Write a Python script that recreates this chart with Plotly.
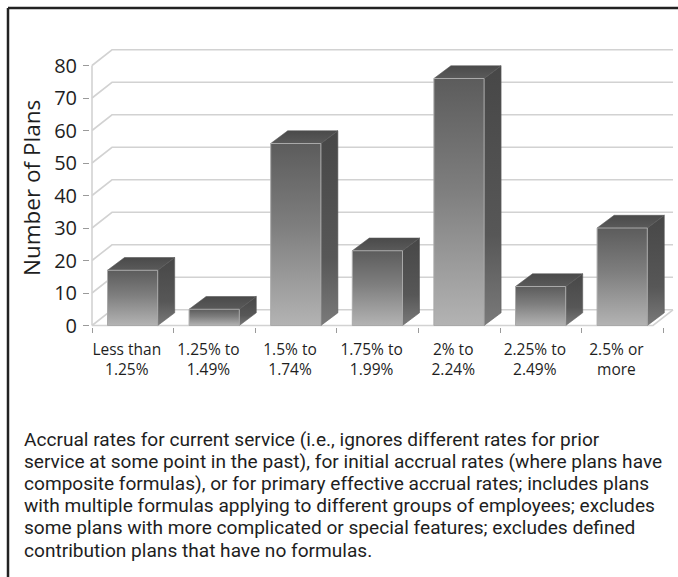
import plotly.graph_objects as go

# ---- data -------------------------------------------------------------
categories = ["Less than<br>1.25%", "1.25% to<br>1.49%", "1.5% to<br>1.74%",
              "1.75% to<br>1.99%", "2% to<br>2.24%", "2.25% to<br>2.49%",
              "2.5% or<br>more"]
plans = [17, 5, 56, 23, 76, 12, 30]
y_ticks = [0, 10, 20, 30, 40, 50, 60, 70, 80]
y_title = "Number of Plans"
note_lines = [
    "Accrual rates for current service (i.e., ignores different rates for prior",
    "service at some point in the past), for initial accrual rates (where plans have",
    "composite formulas), or for primary effective accrual rates; includes plans",
    "with multiple formulas applying to different groups of employees; excludes",
    "some plans with more complicated or special features; excludes defined",
    "contribution plans that have no formulas.",
]

# ---- page geometry (pixels) --------------------------------------------
W, H = 678, 577
ORIGIN_X, ORIGIN_Y = 92.0, 325.5      # front-left floor corner
UNIT_X, UNIT_Y = 81.6, 3.25           # px per category / per plan
AREA_L, AREA_R, AREA_T, AREA_B = 90, 678, 44, 327

x_range = [(AREA_L - ORIGIN_X) / UNIT_X, (AREA_R - ORIGIN_X) / UNIT_X]
y_range = [(ORIGIN_Y - AREA_B) / UNIT_Y, (ORIGIN_Y - AREA_T) / UNIT_Y]

# oblique depth of the back wall and of the columns, in data units
WALL_DX, WALL_DY = 20 / UNIT_X, 15.7 / UNIT_Y
BAR_DX, BAR_DY = 17 / UNIT_X, 12.7 / UNIT_Y
WALL_END = 6.875
BAR_LEFT, BAR_RIGHT = 0.19, 0.805

GRID = "#d2d2d2"
TEXT = "#1e1e1e"
TICKC = "#9a9a9a"
CHART_FONT = "Open Sans, Lato, sans-serif"
NOTE_FONT = "Roboto, Liberation Sans, sans-serif"

fig = go.Figure()


def poly(xs, ys, **kw):
    fig.add_trace(go.Scatter(x=xs, y=ys, mode="lines", hoverinfo="skip",
                             showlegend=False, **kw))


# back wall gridlines (with the diagonal run back from the front axis)
n = len(categories)
for v in y_ticks:
    poly([0, WALL_DX, WALL_END + WALL_DX], [v, v + WALL_DY, v + WALL_DY],
         line=dict(color=GRID, width=1.6))

# floor outline
poly([0, WALL_END, WALL_END + WALL_DX], [0, 0, WALL_DY],
     line=dict(color=GRID, width=1.6))

# front value axis line
poly([0, 0], [0, y_ticks[-1]], line=dict(color=GRID, width=1.6))

# columns: side, top, then front face
for i, v in enumerate(plans):
    x0, x1 = i + BAR_LEFT, i + BAR_RIGHT
    poly([x1, x1 + BAR_DX, x1 + BAR_DX, x1, x1],
         [0, BAR_DY, v + BAR_DY, v, 0],
         fill="toself", line=dict(width=0.6, color="#5a5a5a"),
         fillgradient=dict(type="vertical",
                           colorscale=[[0, "#7a7a7a"], [0.35, "#575757"], [1, "#474747"]]))
    poly([x0, x0 + BAR_DX, x1 + BAR_DX, x1, x0],
         [v, v + BAR_DY, v + BAR_DY, v, v],
         fill="toself", line=dict(width=0.6, color="#555555"),
         fillgradient=dict(type="vertical",
                           colorscale=[[0, "#5a5a5a"], [1, "#4a4a4a"]]))
    poly([x0, x1, x1, x0, x0], [0, 0, v, v, 0],
         fill="toself", line=dict(width=1, color="#a9a9a9"),
         fillgradient=dict(type="vertical",
                           colorscale=[[0, "#b3b3b3"], [0.55, "#7e7e7e"], [1, "#5c5c5c"]]))

fig.update_layout(
    width=W, height=H,
    margin=dict(l=0, r=0, t=0, b=0, autoexpand=False),
    paper_bgcolor="white", plot_bgcolor="white",
    showlegend=False,
    xaxis=dict(
        domain=[AREA_L / W, AREA_R / W], range=x_range, automargin=False,
        showgrid=False, zeroline=False, showline=False,
        tickmode="array", tickvals=[i + 0.5 for i in range(n)],
        ticktext=categories, ticks="", ticklabelstandoff=11,
        ticklabelshift=-6,
        tickfont=dict(family=CHART_FONT, size=15.5, color=TEXT),
        minor=dict(tickmode="linear", tick0=0, dtick=1, ticks="outside",
                   ticklen=5, tickwidth=1, tickcolor=TICKC, showgrid=False),
        fixedrange=True,
    ),
    yaxis=dict(
        domain=[(H - AREA_B) / H, (H - AREA_T) / H], range=y_range, automargin=False,
        showgrid=False, zeroline=False, showline=False,
        tickmode="array", tickvals=y_ticks, ticks="outside", ticklen=6,
        tickwidth=1, tickcolor=TICKC, ticklabelstandoff=2,
        tickfont=dict(family=CHART_FONT, size=20, color=TEXT),
        fixedrange=True,
    ),
)

# y axis title
fig.add_annotation(text=y_title, x=31 / W, y=1 - 188 / H, xref="paper", yref="paper",
                   showarrow=False, textangle=-90, xanchor="center", yanchor="middle",
                   font=dict(family=CHART_FONT, size=22.5, color=TEXT))

# note below the chart, one annotation per line
for k, line in enumerate(note_lines):
    fig.add_annotation(text=line, x=22 / W, y=1 - (439 + 22.2 * k) / H,
                       xref="paper", yref="paper", showarrow=False,
                       xanchor="left", yanchor="middle",
                       font=dict(family=NOTE_FONT, size=19.1, color=TEXT))

# frame: top rule and left rule
fig.add_shape(type="line", xref="paper", yref="paper",
              x0=8 / W, x1=1, y0=1 - 8 / H, y1=1 - 8 / H,
              line=dict(color="#222222", width=2.5))
fig.add_shape(type="line", xref="paper", yref="paper",
              x0=8 / W, x1=8 / W, y0=1 - 8 / H, y1=0,
              line=dict(color="#222222", width=2.5))

fig.write_html("out.html")
